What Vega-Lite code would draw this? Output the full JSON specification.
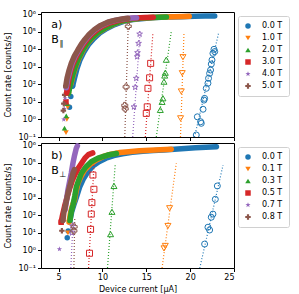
{
  "$schema": "https://vega.github.io/schema/vega-lite/v6.json",
  "padding": {"left": 4, "top": 9, "right": 0, "bottom": 0},
  "background": "white",
  "config": {
    "font": "DejaVu Sans",
    "view": {"stroke": "#000", "strokeWidth": 1},
    "axis": {"labelFont": "DejaVu Sans", "titleFont": "DejaVu Sans", "labelFontSize": 8, "titleFontSize": 8, "titleFontWeight": "normal", "labelColor": "#000", "titleColor": "#000", "tickColor": "#000", "domain": false, "grid": false, "tickSize": 3.5, "labelPadding": 2},
    "legend": {"orient": "none", "legendX": 197, "legendY": 4, "labelFont": "DejaVu Sans", "labelFontSize": 8, "labelColor": "#000", "symbolSize": 30, "strokeColor": "#d0d0d0", "fillColor": "#ffffff", "padding": 6, "cornerRadius": 2, "rowPadding": 4, "labelOffset": 10, "symbolStrokeWidth": 0, "symbolOpacity": 1}
  },
  "datasets": {
    "a_on": [
      {"B":"0.0 T","I":6.25,"r":5},{"B":"0.0 T","I":6.4,"r":20},{"B":"0.0 T","I":6.6,"r":79},{"B":"0.0 T","I":6.82,"r":224},{"B":"0.0 T","I":7.1,"r":794},{"B":"0.0 T","I":7.45,"r":2510},{"B":"0.0 T","I":7.9,"r":7080},{"B":"0.0 T","I":8.4,"r":17800},{"B":"0.0 T","I":9.0,"r":39800},{"B":"0.0 T","I":9.7,"r":83200},{"B":"0.0 T","I":10.5,"r":151000},{"B":"0.0 T","I":11.4,"r":251000},{"B":"0.0 T","I":12.4,"r":380000},{"B":"0.0 T","I":13.5,"r":479000},{"B":"0.0 T","I":14.7,"r":562000},{"B":"0.0 T","I":16,"r":631000},{"B":"0.0 T","I":17.5,"r":676000},{"B":"0.0 T","I":19,"r":708000},{"B":"0.0 T","I":20.5,"r":741000},{"B":"0.0 T","I":21.7,"r":759000},{"B":"0.0 T","I":22.8,"r":776000},
      {"B":"1.0 T","I":5.85,"r":0.18},{"B":"1.0 T","I":5.95,"r":1},{"B":"1.0 T","I":6.05,"r":5},{"B":"1.0 T","I":6.2,"r":25},{"B":"1.0 T","I":6.4,"r":100},{"B":"1.0 T","I":6.65,"r":316},{"B":"1.0 T","I":6.95,"r":1000},{"B":"1.0 T","I":7.3,"r":2820},{"B":"1.0 T","I":7.75,"r":7940},{"B":"1.0 T","I":8.25,"r":20000},{"B":"1.0 T","I":8.85,"r":44700},{"B":"1.0 T","I":9.55,"r":89100},{"B":"1.0 T","I":10.35,"r":158000},{"B":"1.0 T","I":11.25,"r":263000},{"B":"1.0 T","I":12.25,"r":398000},{"B":"1.0 T","I":13.4,"r":501000},{"B":"1.0 T","I":14.6,"r":589000},{"B":"1.0 T","I":15.8,"r":631000},{"B":"1.0 T","I":17.0,"r":676000},{"B":"1.0 T","I":18.2,"r":708000},{"B":"1.0 T","I":19.3,"r":724000},{"B":"1.0 T","I":19.9,"r":741000},
      {"B":"2.0 T","I":5.68,"r":0.32},{"B":"2.0 T","I":5.88,"r":1.6},{"B":"2.0 T","I":6.0,"r":7.9},{"B":"2.0 T","I":6.15,"r":32},{"B":"2.0 T","I":6.35,"r":100},{"B":"2.0 T","I":6.6,"r":316},{"B":"2.0 T","I":6.9,"r":1000},{"B":"2.0 T","I":7.25,"r":2820},{"B":"2.0 T","I":7.7,"r":7940},{"B":"2.0 T","I":8.2,"r":20000},{"B":"2.0 T","I":8.8,"r":44700},{"B":"2.0 T","I":9.5,"r":89100},{"B":"2.0 T","I":10.3,"r":158000},{"B":"2.0 T","I":11.2,"r":263000},{"B":"2.0 T","I":12.2,"r":398000},{"B":"2.0 T","I":13.3,"r":501000},{"B":"2.0 T","I":14.5,"r":589000},{"B":"2.0 T","I":15.7,"r":631000},{"B":"2.0 T","I":16.6,"r":661000},{"B":"2.0 T","I":17.3,"r":676000},
      {"B":"3.0 T","I":5.85,"r":10},{"B":"3.0 T","I":5.95,"r":32},{"B":"3.0 T","I":6.08,"r":100},{"B":"3.0 T","I":6.3,"r":398},{"B":"3.0 T","I":6.6,"r":1260},{"B":"3.0 T","I":6.95,"r":3160},{"B":"3.0 T","I":7.35,"r":7940},{"B":"3.0 T","I":7.8,"r":17800},{"B":"3.0 T","I":8.25,"r":35500},{"B":"3.0 T","I":8.8,"r":70800},{"B":"3.0 T","I":9.4,"r":126000},{"B":"3.0 T","I":10.1,"r":214000},{"B":"3.0 T","I":10.9,"r":316000},{"B":"3.0 T","I":11.8,"r":427000},{"B":"3.0 T","I":12.8,"r":525000},{"B":"3.0 T","I":13.8,"r":589000},{"B":"3.0 T","I":14.8,"r":631000},{"B":"3.0 T","I":15.8,"r":661000},
      {"B":"4.0 T","I":5.6,"r":1},{"B":"4.0 T","I":5.65,"r":4},{"B":"4.0 T","I":5.75,"r":16},{"B":"4.0 T","I":5.88,"r":63},{"B":"4.0 T","I":6.05,"r":200},{"B":"4.0 T","I":6.3,"r":631},{"B":"4.0 T","I":6.55,"r":1580},{"B":"4.0 T","I":6.9,"r":3980},{"B":"4.0 T","I":7.3,"r":8910},{"B":"4.0 T","I":7.7,"r":19100},{"B":"4.0 T","I":8.1,"r":35500},{"B":"4.0 T","I":8.6,"r":70800},{"B":"4.0 T","I":9.2,"r":132000},{"B":"4.0 T","I":9.9,"r":224000},{"B":"4.0 T","I":10.7,"r":339000},{"B":"4.0 T","I":11.6,"r":447000},{"B":"4.0 T","I":12.5,"r":537000},{"B":"4.0 T","I":13.3,"r":589000},{"B":"4.0 T","I":13.9,"r":617000},
      {"B":"5.0 T","I":5.55,"r":3.2},{"B":"5.0 T","I":5.6,"r":7.9},{"B":"5.0 T","I":5.7,"r":25},{"B":"5.0 T","I":5.82,"r":79},{"B":"5.0 T","I":5.97,"r":224},{"B":"5.0 T","I":6.2,"r":631},{"B":"5.0 T","I":6.45,"r":1580},{"B":"5.0 T","I":6.8,"r":3980},{"B":"5.0 T","I":7.2,"r":8910},{"B":"5.0 T","I":7.6,"r":19100},{"B":"5.0 T","I":8.0,"r":35500},{"B":"5.0 T","I":8.5,"r":70800},{"B":"5.0 T","I":9.1,"r":132000},{"B":"5.0 T","I":9.8,"r":224000},{"B":"5.0 T","I":10.6,"r":339000},{"B":"5.0 T","I":11.5,"r":447000},{"B":"5.0 T","I":12.4,"r":537000},{"B":"5.0 T","I":12.9,"r":575000}
    ],
    "a_dark": [
      {"B":"0.0 T","I":20.7,"r":0.13},{"B":"0.0 T","I":20.82,"r":1.41},{"B":"0.0 T","I":21.2,"r":0.74},{"B":"0.0 T","I":21.27,"r":0.6},{"B":"0.0 T","I":21.47,"r":3.8},{"B":"0.0 T","I":21.58,"r":12.6},{"B":"0.0 T","I":21.65,"r":15.8},{"B":"0.0 T","I":21.84,"r":58.9},{"B":"0.0 T","I":22.03,"r":115},{"B":"0.0 T","I":22.1,"r":219},{"B":"0.0 T","I":22.22,"r":417},{"B":"0.0 T","I":22.33,"r":646},{"B":"0.0 T","I":22.41,"r":1410},{"B":"0.0 T","I":22.49,"r":2400},{"B":"0.0 T","I":22.6,"r":5750},{"B":"0.0 T","I":22.72,"r":9770},{"B":"0.0 T","I":22.8,"r":7240},
      {"B":"1.0 T","I":18.91,"r":1.15},{"B":"1.0 T","I":18.99,"r":38.9},{"B":"1.0 T","I":19.1,"r":427},{"B":"1.0 T","I":19.18,"r":3470},
      {"B":"2.0 T","I":16.6,"r":3.5},{"B":"2.0 T","I":16.8,"r":10},{"B":"2.0 T","I":16.9,"r":16},{"B":"2.0 T","I":17.02,"r":141},{"B":"2.0 T","I":17.1,"r":316},{"B":"2.0 T","I":17.17,"r":457},{"B":"2.0 T","I":17.28,"r":2510},
      {"B":"3.0 T","I":15.0,"r":2.2},{"B":"3.0 T","I":15.11,"r":5.2},{"B":"3.0 T","I":15.19,"r":59},{"B":"3.0 T","I":15.38,"r":234},{"B":"3.0 T","I":15.5,"r":1550},
      {"B":"4.0 T","I":13.6,"r":5.2},{"B":"4.0 T","I":13.74,"r":68},{"B":"4.0 T","I":13.86,"r":219},{"B":"4.0 T","I":13.97,"r":3720},{"B":"4.0 T","I":14.0,"r":6310},{"B":"4.0 T","I":14.12,"r":21400},{"B":"4.0 T","I":14.24,"r":72400},
      {"B":"5.0 T","I":12.6,"r":4},{"B":"5.0 T","I":12.55,"r":6.3},{"B":"5.0 T","I":12.7,"r":71},{"B":"5.0 T","I":12.95,"r":200000}
    ],
    "a_fit": [
      {"B":"0.0 T","I":20.5,"r":0.1},{"B":"0.0 T","I":23.24,"r":79400},
      {"B":"1.0 T","I":18.9,"r":0.1},{"B":"1.0 T","I":19.3,"r":87000},
      {"B":"2.0 T","I":16.14,"r":0.1},{"B":"2.0 T","I":17.85,"r":100000},
      {"B":"3.0 T","I":14.89,"r":0.1},{"B":"3.0 T","I":15.76,"r":87000},
      {"B":"4.0 T","I":13.45,"r":0.1},{"B":"4.0 T","I":14.3,"r":100000},
      {"B":"5.0 T","I":12.55,"r":0.1},{"B":"5.0 T","I":12.95,"r":300000}
    ],
    "b_on": [
      {"B":"0.0 T","I":5.99,"r":5.2},{"B":"0.0 T","I":6.1,"r":12.6},{"B":"0.0 T","I":6.3,"r":50},{"B":"0.0 T","I":6.5,"r":158},{"B":"0.0 T","I":6.75,"r":398},{"B":"0.0 T","I":7.05,"r":1120},{"B":"0.0 T","I":7.4,"r":3980},{"B":"0.0 T","I":7.8,"r":11200},{"B":"0.0 T","I":8.3,"r":28200},{"B":"0.0 T","I":8.9,"r":63100},{"B":"0.0 T","I":9.6,"r":112000},{"B":"0.0 T","I":10.4,"r":178000},{"B":"0.0 T","I":11.3,"r":251000},{"B":"0.0 T","I":12.3,"r":316000},{"B":"0.0 T","I":13.4,"r":380000},{"B":"0.0 T","I":14.6,"r":437000},{"B":"0.0 T","I":15.8,"r":479000},{"B":"0.0 T","I":17,"r":525000},{"B":"0.0 T","I":18.2,"r":575000},{"B":"0.0 T","I":19.4,"r":631000},{"B":"0.0 T","I":20.6,"r":692000},{"B":"0.0 T","I":21.8,"r":741000},{"B":"0.0 T","I":23.0,"r":794000},
      {"B":"0.1 T","I":6.07,"r":10},{"B":"0.1 T","I":6.2,"r":40},{"B":"0.1 T","I":6.35,"r":126},{"B":"0.1 T","I":6.55,"r":316},{"B":"0.1 T","I":6.82,"r":741},{"B":"0.1 T","I":7.0,"r":2240},{"B":"0.1 T","I":7.21,"r":6610},{"B":"0.1 T","I":7.55,"r":15800},{"B":"0.1 T","I":7.97,"r":38000},{"B":"0.1 T","I":8.6,"r":79400},{"B":"0.1 T","I":9.3,"r":141000},{"B":"0.1 T","I":10.1,"r":224000},{"B":"0.1 T","I":11.0,"r":302000},{"B":"0.1 T","I":12.0,"r":372000},{"B":"0.1 T","I":13.0,"r":417000},{"B":"0.1 T","I":14.2,"r":468000},{"B":"0.1 T","I":15.4,"r":501000},{"B":"0.1 T","I":16.6,"r":537000},{"B":"0.1 T","I":17.85,"r":575000},
      {"B":"0.3 T","I":6.3,"r":50},{"B":"0.3 T","I":6.45,"r":158},{"B":"0.3 T","I":6.64,"r":380},{"B":"0.3 T","I":6.85,"r":1260},{"B":"0.3 T","I":7.02,"r":3980},{"B":"0.3 T","I":7.3,"r":10000},{"B":"0.3 T","I":7.59,"r":24500},{"B":"0.3 T","I":8.1,"r":56200},{"B":"0.3 T","I":8.73,"r":112000},{"B":"0.3 T","I":9.5,"r":178000},{"B":"0.3 T","I":10.6,"r":269000},{"B":"0.3 T","I":11.6,"r":331000},
      {"B":"0.5 T","I":5.3,"r":40},{"B":"0.5 T","I":5.45,"r":100},{"B":"0.5 T","I":5.68,"r":316},{"B":"0.5 T","I":5.95,"r":1000},{"B":"0.5 T","I":6.25,"r":3160},{"B":"0.5 T","I":6.55,"r":8910},{"B":"0.5 T","I":6.85,"r":20000},{"B":"0.5 T","I":7.2,"r":44700},{"B":"0.5 T","I":7.6,"r":89100},{"B":"0.5 T","I":8.0,"r":178000},{"B":"0.5 T","I":8.4,"r":282000},{"B":"0.5 T","I":8.9,"r":355000},
      {"B":"0.7 T","I":5.1,"r":1.2},{"B":"0.7 T","I":5.75,"r":200},{"B":"0.7 T","I":5.88,"r":589},{"B":"0.7 T","I":6.07,"r":2750},{"B":"0.7 T","I":6.25,"r":7940},{"B":"0.7 T","I":6.45,"r":24500},{"B":"0.7 T","I":6.64,"r":91200},{"B":"0.7 T","I":6.82,"r":251000},{"B":"0.7 T","I":7.02,"r":646000},{"B":"0.7 T","I":7.15,"r":891000},
      {"B":"0.8 T","I":5.38,"r":13.2},{"B":"0.8 T","I":5.5,"r":50},{"B":"0.8 T","I":5.62,"r":158},{"B":"0.8 T","I":5.88,"r":589},{"B":"0.8 T","I":6.07,"r":1780},{"B":"0.8 T","I":6.37,"r":6610},{"B":"0.8 T","I":6.64,"r":24500},{"B":"0.8 T","I":6.8,"r":39800}
    ],
    "b_dark": [
      {"B":"0.0 T","I":21.65,"r":2.3},{"B":"0.0 T","I":22.03,"r":20.9},{"B":"0.0 T","I":22.22,"r":14.5},{"B":"0.0 T","I":22.41,"r":77.6},{"B":"0.0 T","I":22.6,"r":117},{"B":"0.0 T","I":22.87,"r":813},{"B":"0.0 T","I":23.1,"r":4680},
      {"B":"0.1 T","I":17.02,"r":1.3},{"B":"0.1 T","I":17.17,"r":1.8},{"B":"0.1 T","I":17.47,"r":24.5},{"B":"0.1 T","I":17.66,"r":251},
      {"B":"0.3 T","I":10.93,"r":8.5},{"B":"0.3 T","I":11.09,"r":158},{"B":"0.3 T","I":11.32,"r":4680},
      {"B":"0.5 T","I":8.53,"r":0.69},{"B":"0.5 T","I":8.65,"r":15.8},{"B":"0.5 T","I":8.73,"r":117},{"B":"0.5 T","I":8.8,"r":525},{"B":"0.5 T","I":9.03,"r":3020},{"B":"0.5 T","I":8.92,"r":19500},
      {"B":"0.7 T","I":6.52,"r":10},{"B":"0.7 T","I":6.58,"r":25},
      {"B":"0.8 T","I":6.75,"r":13},{"B":"0.8 T","I":6.78,"r":22}
    ],
    "b_fit": [
      {"B":"0.0 T","I":21.1,"r":0.1},{"B":"0.0 T","I":23.75,"r":72000},
      {"B":"0.1 T","I":16.8,"r":0.1},{"B":"0.1 T","I":18.42,"r":91000},
      {"B":"0.3 T","I":10.58,"r":0.1},{"B":"0.3 T","I":11.47,"r":91000},
      {"B":"0.5 T","I":8.42,"r":0.1},{"B":"0.5 T","I":9.04,"r":72000},
      {"B":"0.7 T","I":6.4,"r":0.1},{"B":"0.7 T","I":6.65,"r":40},
      {"B":"0.8 T","I":6.75,"r":0.1},{"B":"0.8 T","I":6.85,"r":80}
    ]
  },
  "vconcat": [
    {
      "width": 193, "height": 125,
      "layer": [
        {"data": {"name": "a_on"}, "transform": [{"filter": "datum.r < 100"}],
         "mark": {"type": "point", "filled": true, "size": 30, "opacity": 1, "clip": true},
         "encoding": {
           "x": {"field": "I", "type": "quantitative", "scale": {"domain": [3, 25], "nice": false}, "axis": {"values": [5, 10, 15, 20, 25], "labels": false, "title": null}},
           "y": {"field": "r", "type": "quantitative", "scale": {"type": "log", "domain": [0.1, 1300000], "nice": false}, "axis": {"title": "Count rate [counts/s]", "titlePadding": 5, "values": [0.1, 1, 10, 100, 1000, 10000, 100000, 1000000], "labelExpr": "'10' + ['⁻¹','⁰','¹','²','³','⁴','⁵','⁶'][round(log(datum.value)/LN10)+1]"}},
           "color": {"field": "B", "type": "nominal", "legend": {"title": null}, "scale": {"domain": ["0.0 T","1.0 T","2.0 T","3.0 T","4.0 T","5.0 T"], "range": ["#1f77b4","#ff7f0e","#2ca02c","#d62728","#9467bd","#8c564b"]}},
           "shape": {"field": "B", "type": "nominal", "legend": {"title": null}, "scale": {"domain": ["0.0 T","1.0 T","2.0 T","3.0 T","4.0 T","5.0 T"], "range": ["circle", "triangle-down", "triangle-up", "square", "M0,-1L0.235,-0.324L0.951,-0.309L0.38,0.124L0.588,0.809L0,0.4L-0.588,0.809L-0.38,0.124L-0.951,-0.309L-0.235,-0.324Z", "cross"]}}
         }},
        {"data": {"name": "a_on"}, "transform": [{"filter": "datum.r >= 30"}],
         "mark": {"type": "line", "strokeWidth": 5.5, "strokeCap": "round", "strokeJoin": "round", "clip": true},
         "encoding": {
           "x": {"field": "I", "type": "quantitative"},
           "y": {"field": "r", "type": "quantitative"},
           "color": {"field": "B", "type": "nominal", "legend": null}
         }},
        {"data": {"name": "a_fit"},
         "mark": {"type": "line", "strokeDash": [1, 2], "strokeWidth": 1.2, "clip": true},
         "encoding": {
           "x": {"field": "I", "type": "quantitative"},
           "y": {"field": "r", "type": "quantitative"},
           "color": {"field": "B", "type": "nominal", "legend": null}
         }},
        {"data": {"name": "a_dark"},
         "mark": {"type": "point", "filled": false, "size": 36, "strokeWidth": 1, "opacity": 1, "clip": true},
         "encoding": {
           "x": {"field": "I", "type": "quantitative"},
           "y": {"field": "r", "type": "quantitative"},
           "color": {"field": "B", "type": "nominal", "legend": null},
           "shape": {"field": "B", "type": "nominal", "legend": null}
         }},
        {"data": {"values": [{"t": "a)", "I": 4.17, "r": 236000}, {"t": "B", "I": 4.17, "r": 32000}]},
         "mark": {"type": "text", "align": "left", "baseline": "middle", "fontSize": 11, "font": "DejaVu Sans", "color": "#000"},
         "encoding": {"x": {"field": "I", "type": "quantitative"}, "y": {"field": "r", "type": "quantitative"}, "text": {"field": "t"}}},
        {"data": {"values": [{"t": "∥", "I": 5.12, "r": 19000}]},
         "mark": {"type": "text", "align": "left", "baseline": "middle", "fontSize": 8, "font": "DejaVu Sans", "color": "#000"},
         "encoding": {"x": {"field": "I", "type": "quantitative"}, "y": {"field": "r", "type": "quantitative"}, "text": {"field": "t"}}}
      ]
    },
    {
      "width": 193, "height": 125,
      "layer": [
        {"data": {"name": "b_on"}, "transform": [{"filter": "datum.r < 100"}],
         "mark": {"type": "point", "filled": true, "size": 30, "opacity": 1, "clip": true},
         "encoding": {
           "x": {"field": "I", "type": "quantitative", "scale": {"domain": [3, 25], "nice": false}, "axis": {"values": [5, 10, 15, 20, 25], "title": "Device current [μA]", "titlePadding": 4}},
           "y": {"field": "r", "type": "quantitative", "scale": {"type": "log", "domain": [0.1, 1300000], "nice": false}, "axis": {"title": "Count rate [counts/s]", "titlePadding": 5, "values": [0.1, 1, 10, 100, 1000, 10000, 100000, 1000000], "labelExpr": "'10' + ['⁻¹','⁰','¹','²','³','⁴','⁵','⁶'][round(log(datum.value)/LN10)+1]"}},
           "color": {"field": "B", "type": "nominal", "legend": {"title": null}, "scale": {"domain": ["0.0 T","0.1 T","0.3 T","0.5 T","0.7 T","0.8 T"], "range": ["#1f77b4","#ff7f0e","#2ca02c","#d62728","#9467bd","#8c564b"]}},
           "shape": {"field": "B", "type": "nominal", "legend": {"title": null}, "scale": {"domain": ["0.0 T","0.1 T","0.3 T","0.5 T","0.7 T","0.8 T"], "range": ["circle", "triangle-down", "triangle-up", "square", "M0,-1L0.235,-0.324L0.951,-0.309L0.38,0.124L0.588,0.809L0,0.4L-0.588,0.809L-0.38,0.124L-0.951,-0.309L-0.235,-0.324Z", "cross"]}}
         }},
        {"data": {"name": "b_on"}, "transform": [{"filter": "datum.r >= 30"}],
         "mark": {"type": "line", "strokeWidth": 5.5, "strokeCap": "round", "strokeJoin": "round", "clip": true},
         "encoding": {
           "x": {"field": "I", "type": "quantitative"},
           "y": {"field": "r", "type": "quantitative"},
           "color": {"field": "B", "type": "nominal", "legend": null}
         }},
        {"data": {"name": "b_fit"},
         "mark": {"type": "line", "strokeDash": [1, 2], "strokeWidth": 1.2, "clip": true},
         "encoding": {
           "x": {"field": "I", "type": "quantitative"},
           "y": {"field": "r", "type": "quantitative"},
           "color": {"field": "B", "type": "nominal", "legend": null}
         }},
        {"data": {"name": "b_dark"},
         "mark": {"type": "point", "filled": false, "size": 36, "strokeWidth": 1, "opacity": 1, "clip": true},
         "encoding": {
           "x": {"field": "I", "type": "quantitative"},
           "y": {"field": "r", "type": "quantitative"},
           "color": {"field": "B", "type": "nominal", "legend": null},
           "shape": {"field": "B", "type": "nominal", "legend": null}
         }},
        {"data": {"values": [{"t": "b)", "I": 4.17, "r": 236000}, {"t": "B", "I": 4.17, "r": 32000}]},
         "mark": {"type": "text", "align": "left", "baseline": "middle", "fontSize": 11, "font": "DejaVu Sans", "color": "#000"},
         "encoding": {"x": {"field": "I", "type": "quantitative"}, "y": {"field": "r", "type": "quantitative"}, "text": {"field": "t"}}},
        {"data": {"values": [{"t": "⊥", "I": 5.12, "r": 19000}]},
         "mark": {"type": "text", "align": "left", "baseline": "middle", "fontSize": 8, "font": "DejaVu Sans", "color": "#000"},
         "encoding": {"x": {"field": "I", "type": "quantitative"}, "y": {"field": "r", "type": "quantitative"}, "text": {"field": "t"}}}
      ]
    }
  ],
  "spacing": 6,
  "bounds": "flush",
  "resolve": {"scale": {"x": "independent", "y": "independent", "color": "independent", "shape": "independent"}, "legend": {"color": "independent", "shape": "independent"}}
}
